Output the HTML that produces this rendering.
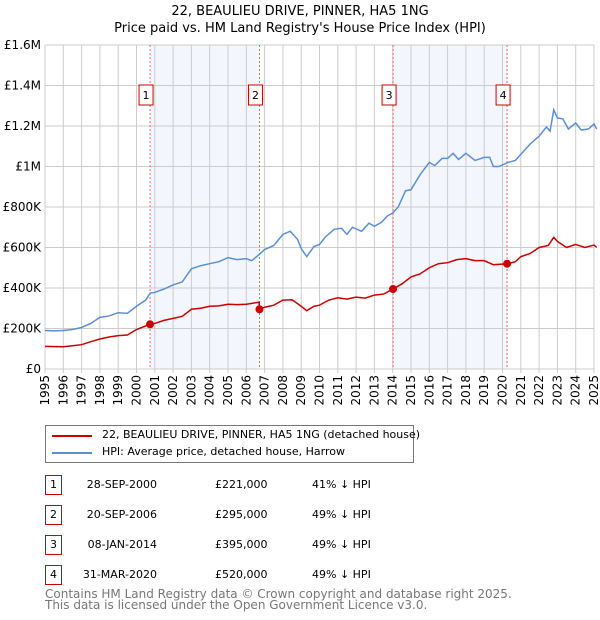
<!DOCTYPE html>
<html><head><meta charset="utf-8"><style>
body{margin:0;background:#fff;font-family:"DejaVu Sans","Liberation Sans",sans-serif;}
#wrap{position:relative;width:600px;height:620px;}
.t{position:absolute;font-size:11px;color:#000;white-space:nowrap;}
.box{position:absolute;border:1px solid #c00;width:15px;height:18px;font-size:11px;text-align:center;line-height:18px;}
</style></head><body><div id="wrap">
<div class="t" style="left:0;width:600px;text-align:center;top:4px;font-size:13px;">22, BEAULIEU DRIVE, PINNER, HA5 1NG</div>
<div class="t" style="left:0;width:600px;text-align:center;top:21px;font-size:13px;">Price paid vs. HM Land Registry's House Price Index (HPI)</div>
<svg id="plot" width="600" height="420" style="position:absolute;left:0;top:0;font-family:'DejaVu Sans',sans-serif"></svg>
<div style="position:absolute;left:45px;top:425px;width:367px;height:36px;border:1px solid #777;">
<div style="position:absolute;left:6px;top:9px;width:40px;height:2px;background:#c00"></div>
<div class="t" style="left:56px;top:2px">22, BEAULIEU DRIVE, PINNER, HA5 1NG (detached house)</div>
<div style="position:absolute;left:6px;top:26px;width:40px;height:2px;background:#5b8fd4"></div>
<div class="t" style="left:56px;top:19px">HPI: Average price, detached house, Harrow</div>
</div>
<div id="rows"></div>
<div class="t" style="left:45px;top:589px;color:#777;line-height:11px;font-size:12px">Contains HM Land Registry data © Crown copyright and database right 2025.<br>This data is licensed under the Open Government Licence v3.0.</div>
</div>
<script>
const yTicks=[0,200,400,600,800,1000,1200,1400,1600];
const yTickLabels=["£0","£200K","£400K","£600K","£800K","£1M","£1.2M","£1.4M","£1.6M"];
const hpiX=[1995,1995.5,1996,1996.5,1997,1997.5,1998,1998.5,1999,1999.5,2000,2000.5,2000.75,2001,2001.5,2002,2002.5,2003,2003.5,2004,2004.5,2005,2005.5,2006,2006.3,2006.7,2007,2007.5,2008,2008.4,2008.8,2009,2009.3,2009.7,2010,2010.3,2010.8,2011.2,2011.5,2011.8,2012.3,2012.7,2013,2013.4,2013.7,2014,2014.3,2014.7,2015,2015.5,2016,2016.3,2016.7,2017,2017.3,2017.6,2018,2018.5,2019,2019.3,2019.5,2019.8,2020.3,2020.7,2021,2021.5,2022,2022.4,2022.6,2022.8,2023,2023.3,2023.6,2024,2024.3,2024.7,2025,2025.15];
const hpiY=[190,188,190,195,205,225,255,262,278,275,310,340,375,378,395,415,430,495,510,520,530,550,540,545,535,565,590,610,665,680,640,595,555,605,615,650,690,695,665,700,680,720,705,725,755,770,800,880,885,960,1020,1005,1040,1040,1065,1035,1065,1030,1045,1045,1000,1000,1020,1030,1060,1110,1150,1195,1175,1280,1240,1235,1185,1215,1180,1185,1210,1185];
const ppX=[1995,1996,1996.5,1997,1997.5,1998,1998.5,1999,1999.5,2000,2000.74,2001,2001.5,2002,2002.5,2003,2003.5,2004,2004.5,2005,2005.5,2006,2006.7,2006.72,2007,2007.5,2008,2008.5,2009,2009.3,2009.7,2010,2010.5,2011,2011.5,2012,2012.5,2013,2013.5,2014.02,2014.5,2015,2015.5,2016,2016.5,2017,2017.5,2018,2018.5,2019,2019.5,2020.25,2020.7,2021,2021.5,2022,2022.5,2022.8,2023,2023.5,2024,2024.5,2025,2025.15];
const ppY=[112,110,115,120,135,148,158,165,168,195,221,225,240,250,260,295,300,310,312,320,318,320,330,295,305,315,340,342,310,288,310,315,340,352,345,355,350,365,370,395,420,455,470,500,520,525,540,545,535,535,515,520,530,555,570,600,610,650,630,600,615,600,612,600];
const saleX=[2000.74,2006.72,2014.02,2020.25];
const saleY=[221,295,395,520];
const saleLabels=["1","2","3","4"];
const saleDates=["28-SEP-2000","20-SEP-2006","08-JAN-2014","31-MAR-2020"];
const salePrices=["£221,000","£295,000","£395,000","£520,000"];
const saleHpi=["41% ↓ HPI","49% ↓ HPI","49% ↓ HPI","49% ↓ HPI"];
const X0=45,X1=594,Y0=369,Y1=45;
const sx=v=>X0+(v-1995)/30*(X1-X0);
const sy=v=>Y0-v/1600*(Y0-Y1);
const svg=document.getElementById('plot');const NS='http://www.w3.org/2000/svg';
function mk(t,a,p){const e=document.createElementNS(NS,t);for(const k in a)e.setAttribute(k,a[k]);(p||svg).appendChild(e);return e;}
for(let i=0;i<4;i+=2){const r=mk('rect',{x:sx(saleX[i]),y:Y1,width:sx(saleX[i+1])-sx(saleX[i]),height:Y0-Y1,fill:'#f3f6fd'});
}
for(let yr=1995;yr<=2025;yr++){const l=mk('line',{x1:sx(yr),x2:sx(yr),y1:Y1,y2:Y0+4,stroke:'#ccc'});

const t=mk('text',{x:0,y:0,'font-size':12,'text-anchor':'end',transform:`translate(${sx(yr)+4},${Y0+6}) rotate(-90)`});t.textContent=yr;
}
yTicks.forEach((v,i)=>{const l=mk('line',{x1:X0,x2:X1,y1:sy(v),y2:sy(v),stroke:'#ccc'});

const t=mk('text',{x:X0-4,y:sy(v)+4,'font-size':12,'text-anchor':'end'});t.textContent=yTickLabels[i];
});
saleX.forEach((v,i)=>{const l=mk('line',{x1:sx(v),x2:sx(v),y1:Y1,y2:Y0,stroke:'#e66','stroke-dasharray':'2,2'});

const r=mk('rect',{x:sx(v)-11,y:85,width:14,height:20,fill:'#fff',stroke:'#c00'});

const t=mk('text',{x:sx(v)-4,y:99,'font-size':11,'text-anchor':'middle'});t.textContent=saleLabels[i];
});
const hp=mk('polyline',{points:hpiX.map((x,i)=>sx(x)+','+sy(hpiY[i])).join(' '),fill:'none',stroke:'#5b8fd4','stroke-width':1.5});

const pp=mk('polyline',{points:ppX.map((x,i)=>sx(x)+','+sy(ppY[i])).join(' '),fill:'none',stroke:'#c00','stroke-width':1.5});

saleX.forEach((v,i)=>{const c=mk('circle',{cx:sx(v),cy:sy(saleY[i]),r:4,fill:'#c00'});
});
const rows=document.getElementById('rows');
saleLabels.forEach((s,i)=>{const top=475+i*30;
const h=`<div class="box" style="left:45px;top:${top}px">${s}</div>
<div class="t" style="left:57px;width:100px;text-align:right;top:${top+3}px">${saleDates[i]}</div>
<div class="t" style="left:215px;top:${top+3}px">${salePrices[i]}</div>
<div class="t" style="left:312px;top:${top+3}px">${saleHpi[i]}</div>`;
rows.insertAdjacentHTML('beforeend',h);});
</script></body></html>
